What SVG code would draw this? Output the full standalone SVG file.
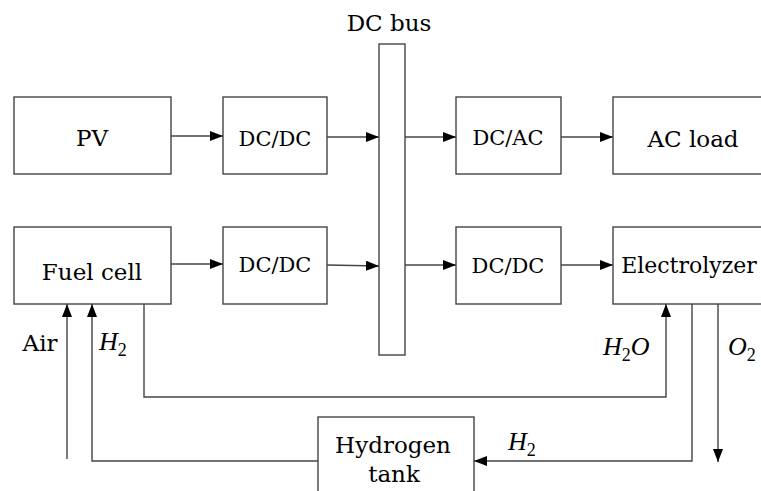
<svg xmlns="http://www.w3.org/2000/svg" width="761" height="491" viewBox="0 0 761 491">
<style>
  .box { fill: #fff; stroke: #444; stroke-width: 1.4; }
  .ln { fill: none; stroke: #444; stroke-width: 1.4; }
</style>
<defs>
  <marker id="ah" markerUnits="userSpaceOnUse" markerWidth="14" markerHeight="10" refX="13" refY="5" orient="auto">
    <path d="M0,0 L13,5 L0,10 Z" fill="#000"/>
  </marker>
</defs>
<rect width="761" height="491" fill="#fff"/>
<g id="connectors">
  <line class="ln" x1="171" y1="136" x2="223" y2="136" marker-end="url(#ah)"/>
  <line class="ln" x1="327" y1="137" x2="379" y2="137" marker-end="url(#ah)"/>
  <line class="ln" x1="405" y1="137" x2="456" y2="137" marker-end="url(#ah)"/>
  <line class="ln" x1="561" y1="137" x2="613" y2="137" marker-end="url(#ah)"/>
  <line class="ln" x1="171" y1="264" x2="223" y2="264" marker-end="url(#ah)"/>
  <line class="ln" x1="327" y1="265" x2="379" y2="266" marker-end="url(#ah)"/>
  <line class="ln" x1="405" y1="265" x2="456" y2="265" marker-end="url(#ah)"/>
  <line class="ln" x1="561" y1="265" x2="613" y2="265" marker-end="url(#ah)"/>
  <polyline class="ln" points="144,304 144,397 666,397 666,304" marker-end="url(#ah)"/>
  <line class="ln" x1="67" y1="459" x2="67" y2="304" marker-end="url(#ah)"/>
  <polyline class="ln" points="318,461 92,461 92,304" marker-end="url(#ah)"/>
  <polyline class="ln" points="692,304 692,461 474,461" marker-end="url(#ah)"/>
  <line class="ln" x1="718" y1="304" x2="718" y2="462" marker-end="url(#ah)"/>
</g>
<g id="pv"><rect class="box" x="14" y="97" width="157" height="77"/><text font-family="DejaVu Serif" font-size="23" text-anchor="middle" x="92" y="146">PV</text></g>
<g id="dcdc1"><rect class="box" x="223" y="97" width="104" height="77"/><text font-family="DejaVu Serif" font-size="21" text-anchor="middle" x="275" y="146">DC/DC</text></g>
<g id="dcbus"><rect class="box" x="379" y="44" width="26" height="311"/><text font-family="DejaVu Serif" font-size="23" text-anchor="middle" x="389" y="31">DC bus</text></g>
<g id="dcac"><rect class="box" x="456" y="97" width="105" height="77"/><text font-family="DejaVu Serif" font-size="21" text-anchor="middle" x="508" y="145">DC/AC</text></g>
<g id="acload"><rect class="box" x="613" y="97" width="154" height="77"/><text font-family="DejaVu Serif" font-size="23" text-anchor="middle" x="693" y="147">AC load</text></g>
<g id="fuelcell"><rect class="box" x="14" y="227" width="157" height="77"/><text font-family="DejaVu Serif" font-size="23" text-anchor="middle" x="92" y="280">Fuel cell</text></g>
<g id="dcdc2"><rect class="box" x="223" y="227" width="104" height="77"/><text font-family="DejaVu Serif" font-size="21" text-anchor="middle" x="275" y="272">DC/DC</text></g>
<g id="dcdc3"><rect class="box" x="456" y="227" width="105" height="77"/><text font-family="DejaVu Serif" font-size="21" text-anchor="middle" x="508" y="273">DC/DC</text></g>
<g id="electrolyzer"><rect class="box" x="613" y="227" width="154" height="77"/><text font-family="DejaVu Serif" font-size="22" text-anchor="middle" x="689" y="273">Electrolyzer</text></g>
<g id="tank"><rect class="box" x="318" y="417" width="156" height="80"/><text font-family="DejaVu Serif" font-size="23" text-anchor="middle" x="393" y="453">Hydrogen</text><text font-family="DejaVu Serif" font-size="23" text-anchor="middle" x="394" y="482">tank</text></g>
<g id="labels">
  <text font-family="DejaVu Serif" font-size="23" text-anchor="middle" x="40" y="351">Air</text>
  <text font-family="Liberation Serif" font-size="26" font-style="italic" x="99" y="350">H<tspan font-style="normal" font-size="18" dy="6">2</tspan></text>
  <text font-family="Liberation Serif" font-size="26" font-style="italic" x="603" y="355">H<tspan font-style="normal" font-size="18" dy="6">2</tspan><tspan dy="-6">O</tspan></text>
  <text font-family="Liberation Serif" font-size="26" font-style="italic" x="728" y="355">O<tspan font-style="normal" font-size="18" dy="6">2</tspan></text>
  <text font-family="Liberation Serif" font-size="26" font-style="italic" x="508" y="450">H<tspan font-style="normal" font-size="18" dy="6">2</tspan></text>
</g>
</svg>
